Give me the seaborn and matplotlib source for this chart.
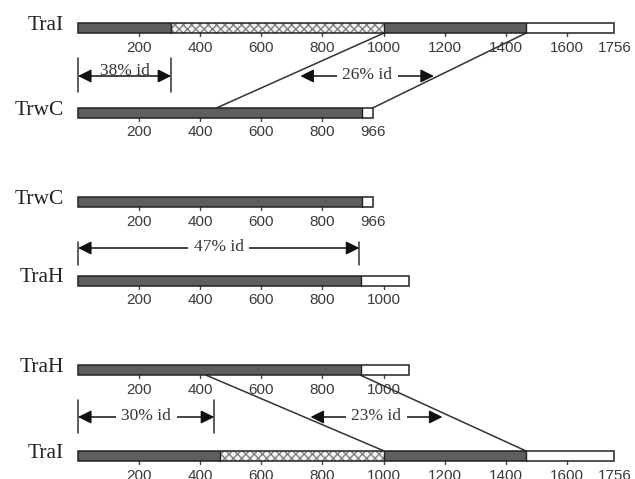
import matplotlib
matplotlib.use("Agg")
import matplotlib.pyplot as plt
import seaborn as sns

# protein lengths (aa)
tral_len = 1756
trwc_len = 966
trah_len = 1085

# bar segments: (start, end, kind)
tral_top_segs = [(0, 305, "dark"), (305, 1000, "check"), (1000, 1465, "dark"), (1465, 1756, "white")]
trwc_segs = [(0, 930, "dark"), (930, 966, "white")]
trah_segs = [(0, 925, "dark"), (925, 1085, "white")]
tral_bot_segs = [(0, 465, "dark"), (465, 1000, "check"), (1000, 1465, "dark"), (1465, 1756, "white")]

# tick labels per row
tral_ticks = [200, 400, 600, 800, 1000, 1200, 1400, 1600, 1756]
trwc_ticks = [200, 400, 600, 800, 966]
trah_ticks = [200, 400, 600, 800, 1000]

# identity regions: (start, end, label, bracketed)
ident_1 = [(0, 305, "38% id", True), (728, 1165, "26% id", False)]
ident_2 = [(0, 921, "47% id", True)]
ident_3 = [(0, 446, "30% id", True), (761, 1193, "23% id", False)]

# connector lines: (upper row pos, lower row pos)
conn_1 = [(1000, 455), (1465, 966)]
conn_3 = [(420, 1000), (925, 1465)]

sns.set_theme(style="white")

fig = plt.figure(figsize=(6.35, 4.79), dpi=100)
ax = fig.add_axes([0, 0, 1, 1])
ax.set_xlim(-78 / 0.3055, (635 - 78) / 0.3055)
ax.set_ylim(479, 0)
ax.axis("off")

bar_h = 10.5
dark = "#5e5e5e"


def draw_row(y, name, segs, ticks):
    for s, e, kind in segs:
        if kind == "dark":
            ax.barh(y, e - s, left=s, height=bar_h, color=dark, lw=0, zorder=2)
        elif kind == "check":
            ax.barh(y, e - s, left=s, height=bar_h, facecolor="#f4f4f4",
                    edgecolor="#808080", hatch="xxxx", lw=0, zorder=2)
        else:
            ax.barh(y, e - s, left=s, height=bar_h, color="white", lw=0, zorder=2)
        if s > 0:
            ax.plot([s, s], [y - bar_h / 2, y + bar_h / 2], color="#222", lw=1, zorder=3)
    total = segs[-1][1]
    ax.barh(y, total, left=0, height=bar_h, fill=False, edgecolor="#222", lw=1.1, zorder=4)
    for t in ticks:
        if t % 200 == 0 and t < total:
            ax.plot([t, t], [y + bar_h / 2, y + bar_h / 2 + 2.5], color="#444", lw=1, zorder=3)
        ax.text(t, y + 19.5, str(t), ha="center", va="center", fontsize=11,
                family="Liberation Sans", color="#3a3a3a")
    ax.text(-45, y - 3, name, ha="right", va="center", fontsize=15.5,
            family="Liberation Serif", color="#222")


def draw_ident(y, regions, vtop, vbot):
    for s, e, label, bracket in regions:
        ax.annotate("", xy=(e, y), xytext=(s, y),
                    arrowprops=dict(arrowstyle="<|-|>", color="#111", lw=1.1,
                                    mutation_scale=20, shrinkA=0, shrinkB=0))
        if bracket:
            for x in (s, e):
                ax.plot([x, x], [vtop, vbot], color="#333", lw=1.1)
        mid = (s + e) / 2
        if label.startswith("38"):
            ax.text(mid, y + 3, label, ha="center", va="bottom", fontsize=12.5,
                    family="Liberation Serif", color="#333")
        else:
            ax.text(mid, y - 1, label, ha="center", va="center", fontsize=12.5,
                    family="Liberation Serif", color="#333", zorder=5,
                    bbox=dict(facecolor="white", edgecolor="none", pad=4))


def draw_conn(y_up, y_low, pairs):
    for a, b in pairs:
        ax.plot([a, b], [y_up + bar_h / 2, y_low - bar_h / 2], color="#333", lw=1.1, zorder=1)


# panel 1
draw_row(28, "TraI", tral_top_segs, tral_ticks)
draw_row(113, "TrwC", trwc_segs, trwc_ticks)
draw_conn(28, 113, conn_1)
draw_ident(76, ident_1, 58, 92)

# panel 2
draw_row(202, "TrwC", trwc_segs, trwc_ticks)
draw_row(281, "TraH", trah_segs, trah_ticks)
draw_ident(248, ident_2, 242, 265)

# panel 3
draw_row(370, "TraH", trah_segs, trah_ticks)
draw_row(456, "TraI", tral_bot_segs, tral_ticks)
draw_conn(370, 456, conn_3)
draw_ident(417, ident_3, 400, 433)

fig.savefig("out.png", dpi=100)
